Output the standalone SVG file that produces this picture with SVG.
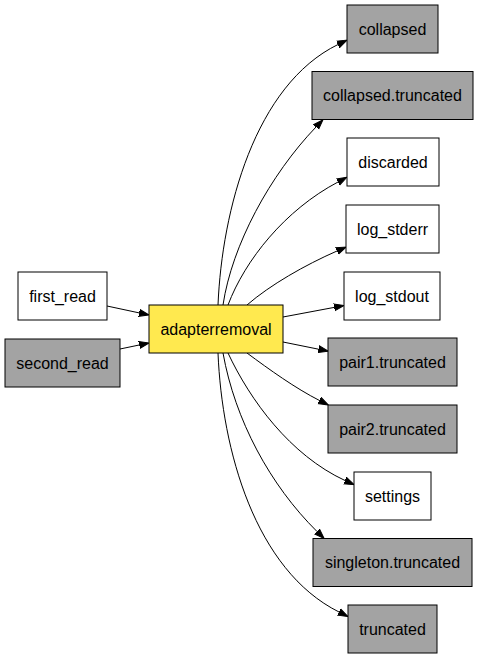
<svg xmlns="http://www.w3.org/2000/svg" width="479" height="659" viewBox="0 0 479 659">
<defs>
<style>
.n rect{stroke:#000;stroke-width:1}
.w{fill:#fff}
.g{fill:#a3a3a3}
.y{fill:#ffe94f}
text{font-family:"Liberation Sans",Arial,sans-serif;font-size:16px;text-anchor:middle;fill:#000}
#edges path{fill:none;stroke:#000;stroke-width:1;marker-end:url(#arr)}
</style>
<marker id="arr" markerUnits="userSpaceOnUse" markerWidth="12" markerHeight="10" refX="0" refY="5" orient="auto" viewBox="0 0 12 10">
<path d="M0,1.5 L10,5 L0,8.5 z" fill="#000" stroke="#000" stroke-width="1"/>
</marker>
</defs>
<rect x="0" y="0" width="479" height="659" fill="#fff" stroke="none"/>
<g id="edges">
<path d="M107,306 L139.2,312.9"/>
<path d="M120,349 L139.2,345"/>
<path d="M218,305 C222,210 255,85 338,44.5"/>
<path d="M223,305 C232,245 270,175 316,127"/>
<path d="M228,305 C245,260 285,210 338,182"/>
<path d="M247,305 C270,285 305,265 337,251"/>
<path d="M283,317 L334.2,307.4"/>
<path d="M283,342 L318.5,349.2"/>
<path d="M247,353 C270,370 295,388 319.5,400.5"/>
<path d="M228,353 C250,400 290,455 345,480.5"/>
<path d="M223,353 C235,420 270,485 317,531.5"/>
<path d="M218,353 C222,450 255,570 339,612"/>
</g>
<g id="first_read" class="n"><rect class="w" x="18" y="272" width="89" height="48"/><text x="62.5" y="301.5">first_read</text></g>
<g id="second_read" class="n"><rect class="g" x="5" y="339" width="115" height="48"/><text x="62.5" y="368.5">second_read</text></g>
<g id="adapterremoval" class="n"><rect class="y" x="149" y="305" width="134" height="48"/><text x="216" y="334.5">adapterremoval</text></g>
<g id="collapsed" class="n"><rect class="g" x="347" y="5" width="91" height="48"/><text x="392.5" y="34.5">collapsed</text></g>
<g id="collapsed_truncated" class="n"><rect class="g" x="312" y="71.5" width="161" height="48"/><text x="392.5" y="101">collapsed.truncated</text></g>
<g id="discarded" class="n"><rect class="w" x="347" y="138" width="92" height="48"/><text x="393" y="167.5">discarded</text></g>
<g id="log_stderr" class="n"><rect class="w" x="346" y="205" width="93" height="48"/><text x="392.5" y="234.5">log_stderr</text></g>
<g id="log_stdout" class="n"><rect class="w" x="344" y="272" width="96" height="48"/><text x="392" y="301.5">log_stdout</text></g>
<g id="pair1_truncated" class="n"><rect class="g" x="328" y="338" width="129" height="48"/><text x="392.5" y="367.5">pair1.truncated</text></g>
<g id="pair2_truncated" class="n"><rect class="g" x="328" y="405" width="129" height="48"/><text x="392.5" y="434.5">pair2.truncated</text></g>
<g id="settings" class="n"><rect class="w" x="354" y="472" width="77" height="48"/><text x="392.5" y="501.5">settings</text></g>
<g id="singleton_truncated" class="n"><rect class="g" x="313" y="538.5" width="159" height="48"/><text x="392.5" y="568">singleton.truncated</text></g>
<g id="truncated" class="n"><rect class="g" x="348" y="605" width="89" height="48"/><text x="392.5" y="634.5">truncated</text></g>
</svg>
